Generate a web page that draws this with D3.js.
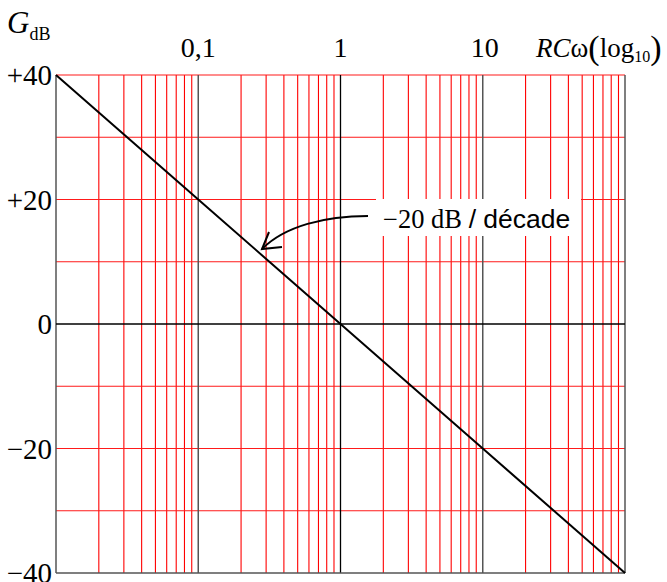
<!DOCTYPE html>
<html>
<head>
<meta charset="utf-8">
<script src="https://cdn.jsdelivr.net/npm/d3@7"></script>
<style>
  body { margin: 0; background: #fff; }
  svg { display: block; }
</style>
</head>
<body>
<div id="bode"></div>
<script>
// data
var rcw = [0.01, 0.1, 1, 10, 100];
var gdb = [40, 20, 0, -20, -40];
var xTickValues = [0.1, 1, 10];
var xTickLabels = ["0,1", "1", "10"];
var yTickValues = [40, 20, 0, -20, -40];
var yTickLabels = ["+40", "+20", "0", "\u221220", "\u221240"];
var yGridValues = [30, 20, 10, -10, -20, -30];

var width = 667, height = 582;
var serif = "'Times New Roman', 'Liberation Serif', serif";
var sans = "Arial, 'Liberation Sans', sans-serif";

const svg = d3.select("#bode")
.append("svg")
.attr("width", width)
.attr("height", height);

const x = d3.scaleLog()
.domain([0.01, 100])
.range([56, 625]);

const y = d3.scaleLinear()
.domain([-40, 40])
.range([573, 75]);

// red vertical grid
var decades = [0.01, 0.1, 1, 10, 100];
svg.append("g")
.selectAll("line")
.data(x.ticks().filter(function (d) { return decades.indexOf(+d.toPrecision(6)) < 0; }))
.join("line")
.attr("x1", function (d) { return x(d); })
.attr("x2", function (d) { return x(d); })
.attr("y1", y(40))
.attr("y2", y(-40))
.style("stroke", "#ff0000")
.style("stroke-width", 1.1);

// red horizontal grid
svg.append("g")
.selectAll("line")
.data(yGridValues.concat([40]))
.join("line")
.attr("x1", x(0.01))
.attr("x2", x(100))
.attr("y1", function (d) { return y(d); })
.attr("y2", function (d) { return y(d); })
.style("stroke", "#ff1a1a")
.style("stroke-width", 1.1);

// decade lines
svg.append("g")
.selectAll("line")
.data(decades)
.join("line")
.attr("x1", function (d) { return x(d); })
.attr("x2", function (d) { return x(d); })
.attr("y1", y(40))
.attr("y2", y(-40))
.style("stroke", function (d) { return d === 1 ? "#000" : "#555"; })
.style("stroke-width", function (d) { return d === 1 ? 1.3 : 1.5; });

// zero line and bottom border
svg.append("line")
.attr("x1", x(0.01)).attr("x2", x(100))
.attr("y1", y(0)).attr("y2", y(0))
.style("stroke", "#000").style("stroke-width", 1.3);
svg.append("line")
.attr("x1", x(0.01)).attr("x2", x(100))
.attr("y1", y(-40)).attr("y2", y(-40))
.style("stroke", "#555").style("stroke-width", 1.5);

// gain line
svg.append("path")
.datum(rcw.map(function (d, i) { return [d, gdb[i]]; }))
.attr("d", d3.line().x(function (d) { return x(d[0]); }).y(function (d) { return y(d[1]); }))
.style("fill", "none")
.style("stroke", "#000")
.style("stroke-width", 2);

// y tick labels
svg.append("g")
.selectAll("text")
.data(yTickValues)
.join("text")
.attr("x", 52)
.attr("y", function (d) { return y(d) + 10; })
.attr("text-anchor", "end")
.style("font-family", serif)
.style("font-size", "29px")
.text(function (d, i) { return yTickLabels[i]; });

// x tick labels
svg.append("g")
.selectAll("text")
.data(xTickValues)
.join("text")
.attr("x", function (d) { return x(d) + (d === 10 ? 2 : 0); })
.attr("y", 57)
.attr("text-anchor", "middle")
.style("font-family", serif)
.style("font-size", "28px")
.text(function (d, i) { return xTickLabels[i]; });

// axis titles
var gt = svg.append("text")
.attr("x", 7).attr("y", 33)
.style("font-family", serif);
gt.append("tspan").style("font-size", "31px").style("font-style", "italic").text("G");
gt.append("tspan").style("font-size", "18px").attr("dy", 7).text("dB");

var xt = svg.append("text")
.attr("x", 536).attr("y", 57)
.style("font-family", serif)
.style("font-size", "27px");
xt.append("tspan").style("font-style", "italic").text("RC");
xt.append("tspan").text("\u03c9");
xt.append("tspan").style("font-size", "34px").attr("dy", 2).text("(");
xt.append("tspan").attr("dy", -2).text("log");
xt.append("tspan").style("font-size", "16px").attr("dy", 5).text("10");
xt.append("tspan").style("font-size", "34px").attr("dy", -3).text(")");

// annotation
svg.append("rect")
.attr("x", 376).attr("y", 199)
.attr("width", 205).attr("height", 37)
.style("fill", "#fff");
var an = svg.append("text")
.attr("x", 383).attr("y", 228)
.style("font-size", "26.5px");
an.append("tspan").style("font-family", serif).text("\u221220 dB ");
an.append("tspan").style("font-family", sans).text("/ d\u00e9cade");

svg.append("path")
.attr("d", "M368,216 C325,216 285,226 262,249")
.style("fill", "none")
.style("stroke", "#000")
.style("stroke-width", 2);
svg.append("path")
.attr("d", "M269,232 L262,249 L282,247")
.style("fill", "none")
.style("stroke", "#000")
.style("stroke-width", 2);
</script>
</body>
</html>
